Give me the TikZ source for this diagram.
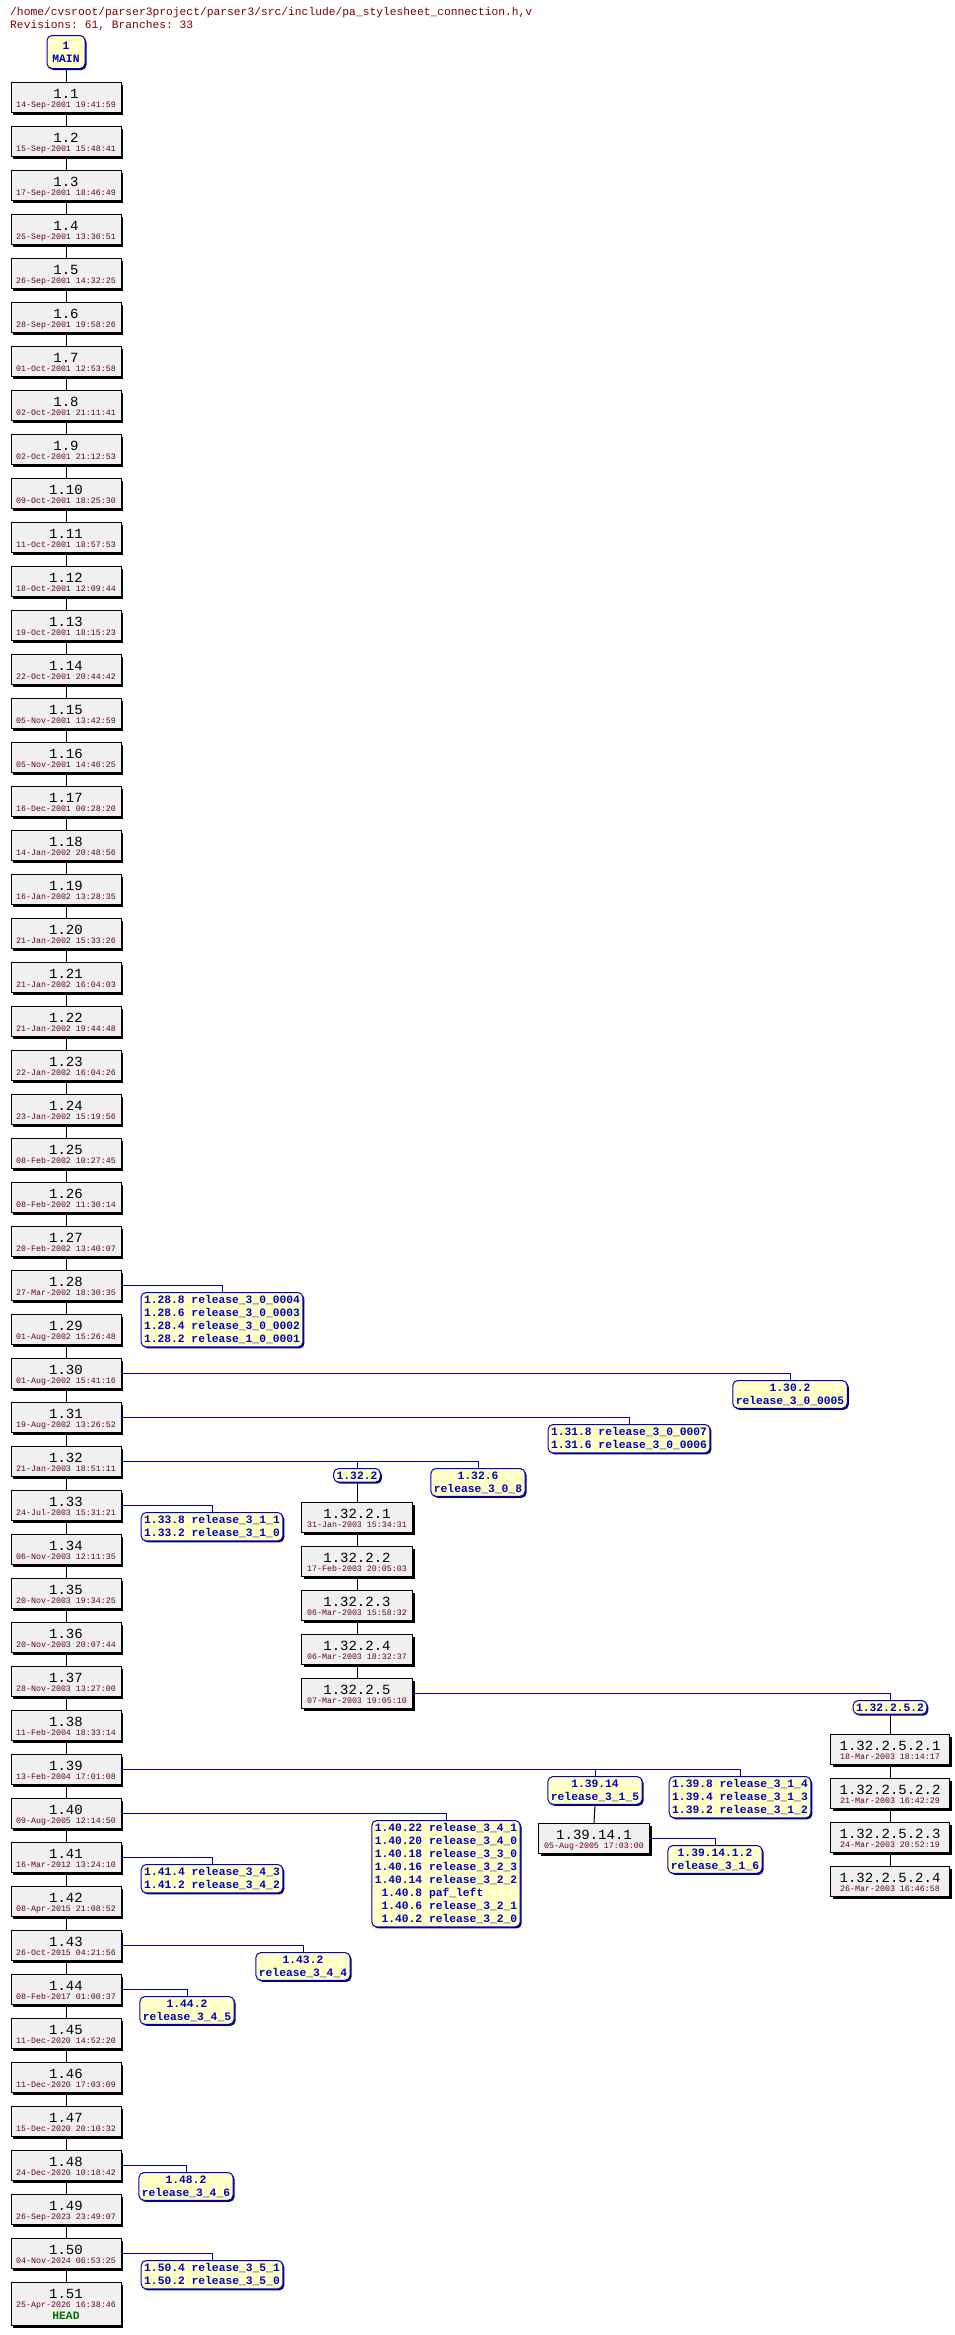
\documentclass[tikz,border=0pt]{standalone}
\usepackage{fontspec}
\setmonofont{Liberation Mono}
\usetikzlibrary{shadows}
\definecolor{boxgray}{HTML}{F0F0F0}
\definecolor{tagfill}{HTML}{FFFFC8}
\definecolor{tagblue}{HTML}{0000C0}
\definecolor{datecol}{HTML}{600020}
\definecolor{titlecol}{HTML}{800000}
\definecolor{headgreen}{HTML}{007000}
\tikzset{
  revbox/.style={draw=black,line width=1pt,fill=boxgray,anchor=north,minimum height=30pt,inner sep=0pt,
    drop shadow={shadow xshift=2pt,shadow yshift=-2pt,opacity=1,fill=black}},
  tagbox/.style={draw=tagblue,line width=1pt,fill=tagfill,anchor=north,rounded corners=5pt,inner sep=3pt,
    text=tagblue,font=\ttfamily\bfseries\fontsize{11.3}{13}\selectfont,align=left,
    drop shadow={shadow xshift=1.5pt,shadow yshift=-1.5pt,opacity=1,fill=tagblue!60!black}},
  vtxt/.style={anchor=base,font=\ttfamily\fontsize{14}{14}\selectfont,inner sep=0pt},
  dtxt/.style={anchor=base,font=\ttfamily\fontsize{8.3}{8.3}\selectfont,text=datecol,inner sep=0pt},
  trunk/.style={draw=black,line width=1pt},
  branch/.style={draw=tagblue,line width=1pt},
}
\newcommand\rv[6]{%
  \node[revbox,minimum width=#4] (#1) at (#2,#3) {};
  \node[vtxt] at (#2,#3+16) {#5};
  \node[dtxt] at (#2,#3+25) {#6};}
\begin{document}
\begin{tikzpicture}[x=1pt,y=-1pt]
\useasboundingbox[fill=white] (0,0) rectangle (954,2335);
\node[anchor=base west,inner sep=0pt,text=titlecol,font=\ttfamily\fontsize{11.3}{12}\selectfont] (title1) at (10,15) {/home/cvsroot/parser3project/parser3/src/include/pa\_stylesheet\_connection.h,v};
\node[anchor=base west,inner sep=0pt,text=titlecol,font=\ttfamily\fontsize{11.3}{12}\selectfont] (title2) at (10,28) {Revisions: 61, Branches: 33};
\node[tagbox,minimum width=38pt,minimum height=33pt,align=center] (main) at (66,35) {1\\MAIN};
\foreach \n/\d in {1/14-Sep-2001 19:41:59,2/15-Sep-2001 15:48:41,3/17-Sep-2001 18:46:49,4/25-Sep-2001 13:36:51,
 5/26-Sep-2001 14:32:25,6/28-Sep-2001 19:58:26,7/01-Oct-2001 12:53:58,8/02-Oct-2001 21:11:41,9/02-Oct-2001 21:12:53,
 10/09-Oct-2001 18:25:30,11/11-Oct-2001 18:57:53,12/18-Oct-2001 12:09:44,13/19-Oct-2001 18:15:23,14/22-Oct-2001 20:44:42,
 15/05-Nov-2001 13:42:59,16/05-Nov-2001 14:46:25,17/16-Dec-2001 00:28:20,18/14-Jan-2002 20:48:56,19/16-Jan-2002 13:28:35,
 20/21-Jan-2002 15:33:26,21/21-Jan-2002 16:04:03,22/21-Jan-2002 19:44:48,23/22-Jan-2002 16:04:26,24/23-Jan-2002 15:19:56,
 25/08-Feb-2002 10:27:45,26/08-Feb-2002 11:30:14,27/20-Feb-2002 13:40:07,28/27-Mar-2002 18:30:35,29/01-Aug-2002 15:26:48,
 30/01-Aug-2002 15:41:16,31/19-Aug-2002 13:26:52,32/21-Jan-2003 18:51:11,33/24-Jul-2003 15:31:21,34/06-Nov-2003 12:11:35,
 35/20-Nov-2003 19:34:25,36/20-Nov-2003 20:07:44,37/28-Nov-2003 13:27:00,38/11-Feb-2004 18:33:14,39/13-Feb-2004 17:01:08,
 40/09-Aug-2005 12:14:50,41/16-Mar-2012 13:24:10,42/08-Apr-2015 21:08:52,43/26-Oct-2015 04:21:56,44/08-Feb-2017 01:00:37,
 45/11-Dec-2020 14:52:20,46/11-Dec-2020 17:03:09,47/15-Dec-2020 20:10:32,48/24-Dec-2020 10:18:42,49/26-Sep-2023 23:49:07,
 50/04-Nov-2024 06:53:25}{
  \pgfmathtruncatemacro\t{82+(\n-1)*44}
  \rv{r\n}{66}{\t}{110pt}{1.\n}{\d}
}
\node[revbox,minimum width=110pt,minimum height=43pt] (r51) at (66,2282) {};
\node[vtxt] at (66,2298) {1.51};
\node[dtxt] at (66,2307) {25-Apr-2026 16:38:46};
\node[anchor=base,inner sep=0pt,text=headgreen,font=\ttfamily\bfseries\fontsize{11.3}{12}\selectfont] (head) at (66,2319) {HEAD};
\draw[trunk] (main.south) -- (r1.north);
\foreach \a [evaluate=\a as \b using int(\a+1)] in {1,...,50}{
  \draw[trunk] (r\a.south) -- (r\b.north);
}
% branch 1.32.2
\rv{r13221}{357}{1502}{111pt}{1.32.2.1}{31-Jan-2003 15:34:31}
\rv{r13222}{357}{1546}{111pt}{1.32.2.2}{17-Feb-2003 20:05:03}
\rv{r13223}{357}{1590}{111pt}{1.32.2.3}{06-Mar-2003 15:58:32}
\rv{r13224}{357}{1634}{111pt}{1.32.2.4}{06-Mar-2003 18:32:37}
\rv{r13225}{357}{1678}{111pt}{1.32.2.5}{07-Mar-2003 19:05:10}
\rv{r1322521}{890}{1734}{119pt}{1.32.2.5.2.1}{18-Mar-2003 18:14:17}
\rv{r1322522}{890}{1778}{119pt}{1.32.2.5.2.2}{21-Mar-2003 16:42:29}
\rv{r1322523}{890}{1822}{119pt}{1.32.2.5.2.3}{24-Mar-2003 20:52:19}
\rv{r1322524}{890}{1866}{119pt}{1.32.2.5.2.4}{26-Mar-2003 16:46:58}
\rv{r139141}{594}{1823}{111pt}{1.39.14.1}{05-Aug-2005 17:03:00}
% tags
\node[tagbox] (t128) at (222,1292) {1.28.8 release\_3\_0\_0004\\1.28.6 release\_3\_0\_0003\\1.28.4 release\_3\_0\_0002\\1.28.2 release\_1\_0\_0001};
\node[tagbox,align=center] (t130) at (790,1380) {1.30.2\\release\_3\_0\_0005};
\node[tagbox] (t131) at (629,1424) {1.31.8 release\_3\_0\_0007\\1.31.6 release\_3\_0\_0006};
\node[tagbox,align=center] (t1322) at (357,1468) {1.32.2};
\node[tagbox,align=center] (t1326) at (478,1468) {1.32.6\\release\_3\_0\_8};
\node[tagbox] (t133) at (212,1512) {1.33.8 release\_3\_1\_1\\1.33.2 release\_3\_1\_0};
\node[tagbox,align=center] (t132252) at (890,1700) {1.32.2.5.2};
\node[tagbox,align=center] (t13914) at (595,1776) {1.39.14\\release\_3\_1\_5};
\node[tagbox] (t1398) at (740,1776) {1.39.8 release\_3\_1\_4\\1.39.4 release\_3\_1\_3\\1.39.2 release\_3\_1\_2};
\node[tagbox,align=center] (t139142) at (715,1845) {1.39.14.1.2\\release\_3\_1\_6};
\node[tagbox] (t140) at (446,1820) {1.40.22 release\_3\_4\_1\\1.40.20 release\_3\_4\_0\\1.40.18 release\_3\_3\_0\\1.40.16 release\_3\_2\_3\\1.40.14 release\_3\_2\_2\\\ 1.40.8 paf\_left\\\ 1.40.6 release\_3\_2\_1\\\ 1.40.2 release\_3\_2\_0};
\node[tagbox] (t141) at (212,1864) {1.41.4 release\_3\_4\_3\\1.41.2 release\_3\_4\_2};
\node[tagbox,align=center] (t143) at (303,1952) {1.43.2\\release\_3\_4\_4};
\node[tagbox,align=center] (t144) at (187,1996) {1.44.2\\release\_3\_4\_5};
\node[tagbox,align=center] (t148) at (186,2172) {1.48.2\\release\_3\_4\_6};
\node[tagbox] (t150) at (212,2260) {1.50.4 release\_3\_5\_1\\1.50.2 release\_3\_5\_0};
% connectors
\draw[branch] (r28.east) -| (t128.north);
\draw[branch] (r30.east) -| (t130.north);
\draw[branch] (r31.east) -| (t131.north);
\draw[branch] (r32.east) -| (t1322.north);
\draw[branch] (r32.east) -| (t1326.north);
\draw[branch] (r33.east) -| (t133.north);
\draw[trunk] (t1322.south) -- (r13221.north);
\draw[trunk] (r13221.south) -- (r13222.north);
\draw[trunk] (r13222.south) -- (r13223.north);
\draw[trunk] (r13223.south) -- (r13224.north);
\draw[trunk] (r13224.south) -- (r13225.north);
\draw[branch] (r13225.east) -| (t132252.north);
\draw[trunk] (t132252.south) -- (r1322521.north);
\draw[trunk] (r1322521.south) -- (r1322522.north);
\draw[trunk] (r1322522.south) -- (r1322523.north);
\draw[trunk] (r1322523.south) -- (r1322524.north);
\draw[branch] (r39.east) -| (t13914.north);
\draw[branch] (r39.east) -| (t1398.north);
\draw[trunk] (t13914.south) -- (r139141.north);
\draw[branch] (r139141.east) -| (t139142.north);
\draw[branch] (r40.east) -| (t140.north);
\draw[branch] (r41.east) -| (t141.north);
\draw[branch] (r43.east) -| (t143.north);
\draw[branch] (r44.east) -| (t144.north);
\draw[branch] (r48.east) -| (t148.north);
\draw[branch] (r50.east) -| (t150.north);
\end{tikzpicture}
\end{document}
